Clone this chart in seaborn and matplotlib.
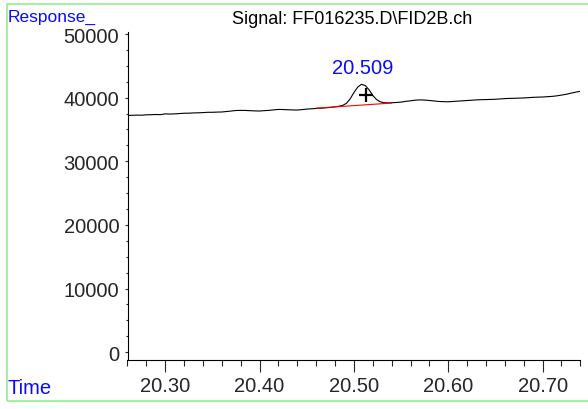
import matplotlib
matplotlib.use("Agg")
import matplotlib.pyplot as plt
import seaborn as sns
import pandas as pd
from matplotlib.patches import Rectangle
from matplotlib.ticker import MultipleLocator, FormatStrFormatter

# ======================================================================
# DATA
# ======================================================================
time_min = [20.260, 20.265, 20.270, 20.275, 20.280, 20.285, 20.290, 20.295,
            20.300, 20.305, 20.310, 20.315, 20.320, 20.325, 20.330, 20.335,
            20.340, 20.345, 20.350, 20.355, 20.360, 20.365, 20.370, 20.375,
            20.380, 20.385, 20.390, 20.395, 20.400, 20.405, 20.410, 20.415,
            20.420, 20.425, 20.430, 20.435, 20.440, 20.445, 20.450, 20.455,
            20.460, 20.465, 20.470, 20.475, 20.480, 20.484, 20.488, 20.492,
            20.496, 20.500, 20.504, 20.508, 20.512, 20.516, 20.520, 20.524,
            20.528, 20.532, 20.536, 20.540, 20.545, 20.550, 20.555, 20.560,
            20.565, 20.570, 20.575, 20.580, 20.585, 20.590, 20.595, 20.600,
            20.605, 20.610, 20.615, 20.620, 20.625, 20.630, 20.635, 20.640,
            20.645, 20.650, 20.655, 20.660, 20.665, 20.670, 20.675, 20.680,
            20.685, 20.690, 20.695, 20.700, 20.705, 20.710, 20.715, 20.720,
            20.725, 20.730, 20.735, 20.740]
response = [37200, 37230, 37260, 37240, 37300, 37320, 37350, 37330,
            37450, 37420, 37450, 37500, 37550, 37560, 37600, 37620,
            37650, 37700, 37700, 37730, 37750, 37820, 37900, 37980,
            38000, 37990, 37950, 37920, 37900, 37960, 38000, 38080,
            38150, 38130, 38100, 38070, 38050, 38120, 38200, 38250,
            38300, 38340, 38400, 38460, 38550, 38650, 38780, 39100,
            39800, 40800, 41650, 42100, 41900, 41250, 40350, 39700,
            39350, 39200, 39180, 39200, 39240, 39300, 39420, 39500,
            39600, 39650, 39620, 39550, 39480, 39400, 39370, 39350,
            39400, 39450, 39500, 39550, 39600, 39650, 39680, 39700,
            39720, 39750, 39800, 39850, 39880, 39900, 39930, 39950,
            40000, 40050, 40080, 40100, 40150, 40200, 40280, 40400,
            40530, 40700, 40860, 41000]

# integration baseline under the peak
base_time = [20.460, 20.540]
base_resp = [38350, 39150]

# peak annotation
peak_rt = 20.509
peak_label = "20.509"
peak_label_y = 43300
cross_time = [20.5124]
cross_resp = [40460]

x_ticks = [20.30, 20.40, 20.50, 20.60, 20.70]
y_ticks = [0, 10000, 20000, 30000, 40000, 50000]

# ======================================================================
# PLOT
# ======================================================================
sns.set_style("ticks")
plt.rcParams['font.family'] = ['Liberation Sans', 'DejaVu Sans']

df = pd.DataFrame({'time': time_min, 'response': response})
df_base = pd.DataFrame({'time': base_time, 'response': base_resp})

fig = plt.figure(figsize=(5.88, 4.10), dpi=100)
ax = fig.add_axes([127.5 / 588, 1 - 360.5 / 410, (580.3 - 127.5) / 588, (360.5 - 33.3) / 410])

sns.lineplot(data=df, x='time', y='response', color='black', linewidth=0.8, ax=ax)
sns.lineplot(data=df_base, x='time', y='response', color='#ff0000', linewidth=0.8, ax=ax)
ax.plot(cross_time, cross_resp, marker='+', color='black', markersize=10, mew=1.6, linestyle='none')
ax.text(peak_rt, peak_label_y, peak_label, color='#0a0aff', fontsize=14.5, ha='center', va='bottom')

ax.set_xlim(20.26, 20.74)
ax.set_ylim(-1150, 50270)
ax.set_xticks(x_ticks)
ax.set_yticks(y_ticks)
ax.xaxis.set_major_formatter(FormatStrFormatter('%.2f'))
ax.xaxis.set_minor_locator(MultipleLocator(0.02))
ax.yaxis.set_minor_locator(MultipleLocator(2500))
ax.set_xlabel('')
ax.set_ylabel('')

for side in ['top', 'right']:
    ax.spines[side].set_visible(False)
for side in ['left', 'bottom']:
    ax.spines[side].set_linewidth(0.8)
    ax.spines[side].set_color('black')

ax.tick_params(axis='x', which='major', direction='out', length=8.6, width=0.8, pad=3.6, labelsize=14.5)
ax.tick_params(axis='x', which='minor', direction='out', length=4.3, width=0.8)
ax.tick_params(axis='y', which='major', direction='out', length=2.4, width=0.8, pad=3.6, labelsize=14.5)
ax.tick_params(axis='y', which='minor', direction='out', length=1.5, width=0.8)

# texts around the frame
fig.text(352.5 / 588, 1 - 20 / 410, 'Signal: FF016235.D\\FID2B.ch', fontsize=13,
         ha='center', va='center', color='black')
fig.text(8 / 588, 1 - 17.5 / 410, 'Response_', fontsize=12.5, ha='left', va='center', color='#0a0aff')
fig.text(7.3 / 588, 1 - 389 / 410, 'Time', fontsize=14.5, ha='left', va='center', color='#0a0aff')

# light green border
fig.add_artist(Rectangle((6.7 / 588, 1 - 401.7 / 410), (590 - 6.7) / 588, (401.7 - 4.7) / 410,
                         transform=fig.transFigure, fill=False, edgecolor='#90ee90', linewidth=1.2))

fig.savefig('out.png', dpi=100)
